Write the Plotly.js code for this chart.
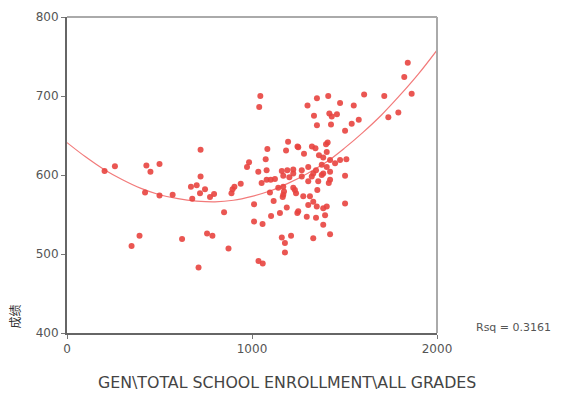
<!DOCTYPE html>
<html>
<head>
<meta charset="utf-8">
<script src="https://cdn.plot.ly/plotly-3.0.1.min.js"></script>
<style>html,body{margin:0;padding:0;background:#fff;}#chart{width:562px;height:393px;}</style>
</head>
<body>
<div id="chart"></div>
<script>
// Observed data: enrollment (x) vs score (y)
const enrollment = [203,259,429,451,500,722,722,422,500,571,677,670,701,746,719,795,773,392,349,622,757,786,711,849,873,1011,1011,1057,1035,1058,889,895,905,939,1097,1117,1103,1045,1039,1083,1074,1195,1184,1246,984,973,1034,1079,1052,1079,1101,1124,1161,1191,1223,1202,1142,1173,1166,1238,1223,1151,1188,1245,1161,1211,1178,1178,1300,1351,1412,1476,1550,1335,1418,1431,1459,1351,1427,1539,1577,1503,1250,1281,1324,1343,1409,1400,1362,1385,1422,1449,1510,1377,1404,1269,1304,1346,1422,1377,1323,1503,1169,1223,1269,1331,1385,1422,1415,1169,1232,1304,1358,1353,1169,1277,1313,1331,1304,1350,1385,1395,1404,1503,1250,1296,1346,1385,1422,1331,1842,1823,1863,1715,1606,1791,1737,1404,1476];
const score = [605,611,612,604,614,632,598,578,574,575,570,585,587,582,577,576,572,523,510,519,526,523,483,553,507,563,541,538,491,488,577,582,585,589,578,567,548,700,686,633,620,642,631,636,616,610,604,606,590,594,594,595,605,606,607,597,584,579,572,577,584,552,559,552,521,523,514,502,688,697,700,691,688,675,678,674,677,663,664,665,670,656,635,627,636,634,641,639,625,622,619,615,620,613,610,606,610,606,604,600,598,599,599,602,598,602,602,594,590,585,581,592,592,581,575,573,573,566,562,560,558,549,560,564,554,547,546,537,525,520,742,724,703,700,702,679,673,629,619];
// Quadratic fit curve
const fitX = [0,100,200,300,400,500,600,700,800,900,1000,1100,1200,1300,1400,1500,1600,1700,1800,1900,2000];
const fitY = [641,623,607,594,583,575,570,567,566,568,573,580,590,602,616,634,654,676,701,728,758];
const xTicks = [0,1000,2000];
const yTicks = [400,500,600,700,800];
const xTitle = "GEN\\TOTAL SCHOOL ENROLLMENT\\ALL GRADES";
const yTitle = "成绩";
const rsqText = "Rsq = 0.3161";

const traces = [
  {x: fitX, y: fitY, mode: 'lines', type: 'scatter', line: {color: '#f27a7a', width: 1.2, shape: 'spline'}, hoverinfo: 'skip'},
  {x: enrollment, y: score, mode: 'markers', type: 'scatter', marker: {color: '#e8443f', size: 6, opacity: 0.9, line: {width: 0}}}
];

const fam = 'DejaVu Sans, sans-serif';
const axisFont = {family: fam, size: 12, color: '#555'};
const layout = {
  width: 562, height: 393,
  margin: {l: 67, r: 125, t: 17, b: 60},
  paper_bgcolor: '#fff', plot_bgcolor: '#fff',
  showlegend: false,
  font: axisFont,
  xaxis: {
    range: [0, 2000], tickvals: xTicks, ticktext: xTicks.map(String),
    showgrid: false, zeroline: false, showline: true, linecolor: '#666', linewidth: 2,
    ticks: 'outside', ticklen: 4, tickcolor: '#777', tickwidth: 1,
    tickfont: axisFont, automargin: false
  },
  yaxis: {
    range: [400, 800], tickvals: yTicks, ticktext: yTicks.map(String),
    showgrid: false, zeroline: false, showline: true, linecolor: '#666', linewidth: 2,
    ticks: 'outside', ticklen: 4, tickcolor: '#777', tickwidth: 1,
    tickfont: axisFont, automargin: false
  },
  shapes: [
    {type: 'line', xref: 'paper', yref: 'paper', x0: 0, x1: 1, y0: 1, y1: 1, line: {color: '#aaa', width: 2}},
    {type: 'line', xref: 'paper', yref: 'paper', x0: 1, x1: 1, y0: 0, y1: 1, line: {color: '#aaa', width: 2}}
  ],
  annotations: [
    {text: xTitle, xref: 'paper', yref: 'paper', x: 0.595, y: -0.158, xanchor: 'center', yanchor: 'middle', showarrow: false,
     font: {family: fam, size: 15.8, color: '#444'}},
    {text: rsqText, xref: 'paper', yref: 'paper', x: 1.1, y: 0.016, xanchor: 'left', yanchor: 'middle', showarrow: false,
     font: {family: fam, size: 11, color: '#555'}},
    {text: yTitle, xref: 'paper', yref: 'paper', x: -0.142, y: 0.054, xanchor: 'center', yanchor: 'middle', textangle: -90, showarrow: false,
     font: {family: 'Noto Sans CJK SC, sans-serif', size: 12, color: '#333'}}
  ]
};

Plotly.newPlot('chart', traces, layout, {staticPlot: true, displayModeBar: false});
</script>
</body>
</html>
